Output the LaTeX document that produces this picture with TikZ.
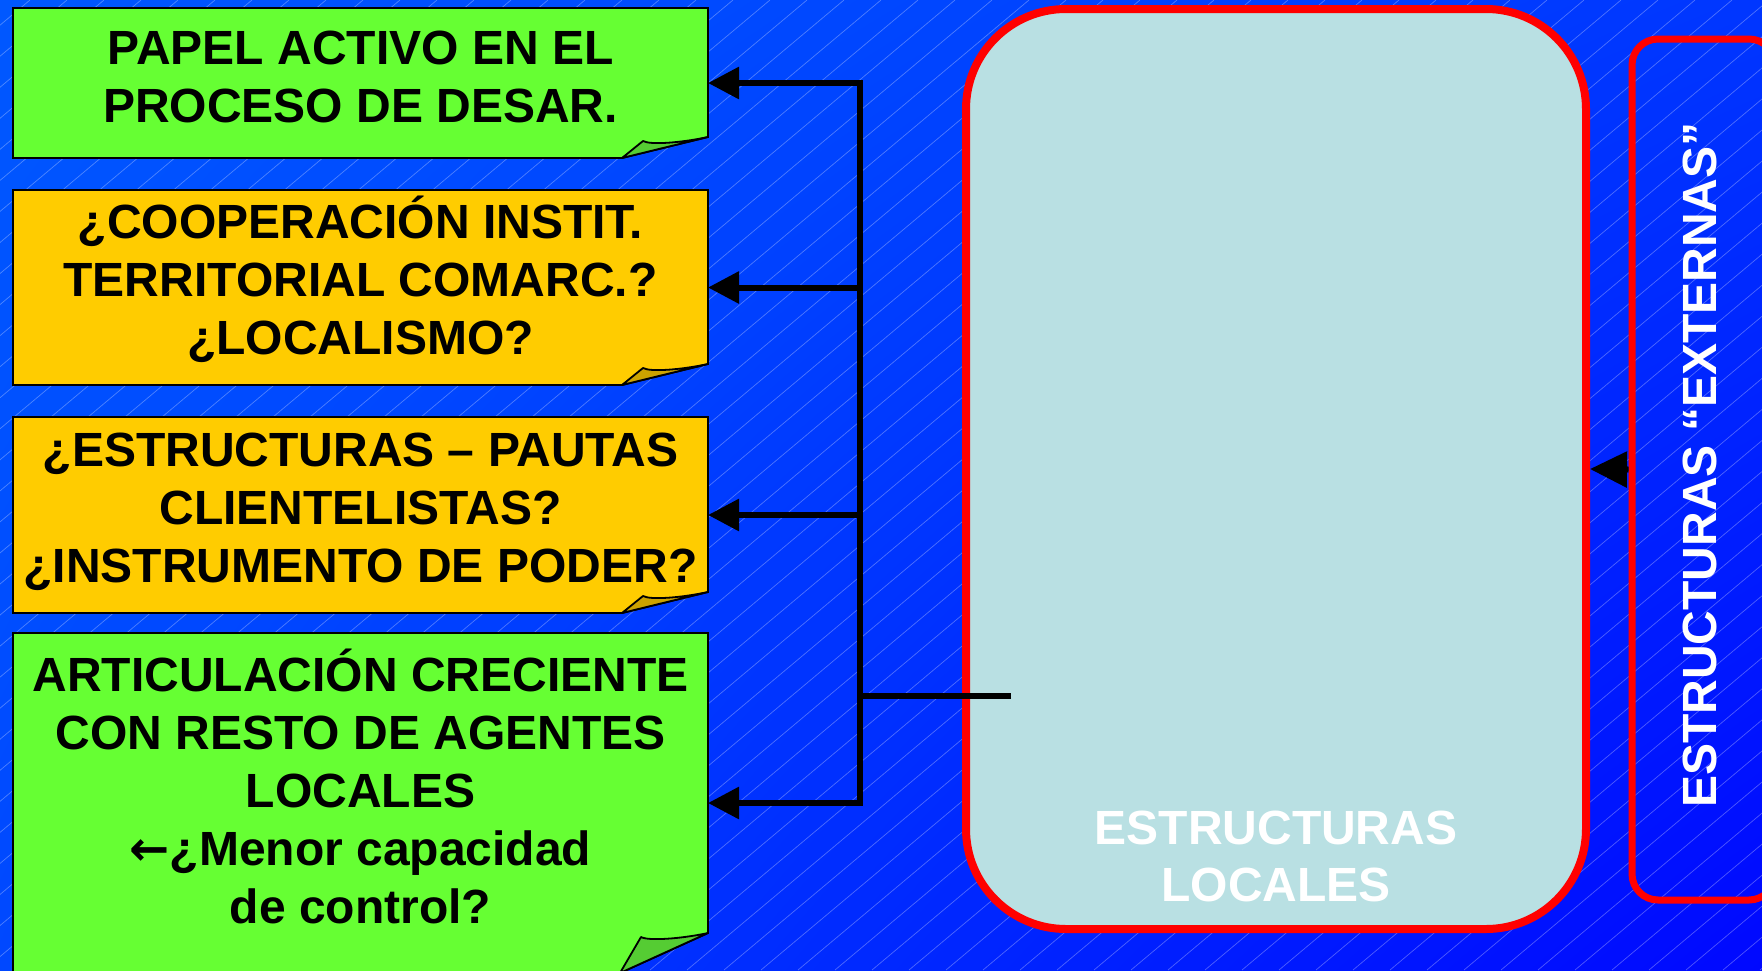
\documentclass[tikz,border=0pt]{standalone}
\usepackage{fontspec}
\setmainfont{Liberation Sans}
\newfontfamily\symfont{DejaVu Sans}
\usetikzlibrary{arrows.meta,calc,shadings}

\definecolor{bgtl}{HTML}{0058FF}
\definecolor{bgtr}{HTML}{0036FF}
\definecolor{bgbl}{HTML}{0048FF}
\definecolor{bgbr}{HTML}{0008FF}
\definecolor{notegreen}{HTML}{66FF33}
\definecolor{flapgreen}{HTML}{55CC33}
\definecolor{noteyellow}{HTML}{FFCC00}
\definecolor{flapyellow}{HTML}{CCA300}
\definecolor{locfill}{HTML}{B9E0E3}

\tikzset{
  notebox/.style={rectangle, minimum width=695pt, inner sep=0pt, outer sep=0pt, anchor=north west},
  notetext/.style={align=center, inner sep=0pt, font=\fontsize{48}{58}\selectfont\bfseries},
  whitetext/.style={align=center, inner sep=0pt, text=white, font=\fontsize{48}{57}\selectfont\bfseries},
  stripe/.style={white, opacity=0.3, line width=0.7pt},
  link/.style={line width=6pt, draw=black},
  pointer/.style={-{Triangle[length=31pt,width=31pt]}},
}

% sticky note: name, fill, flap colour, fold height, fold width
\newcommand{\stickynote}[5]{
  \draw[line width=1.8pt, fill=#2] (#1.north west) -- (#1.north east)
    -- ($(#1.south east)+(0,-#4)$) -- ($(#1.south east)+(-#5,0)$) -- (#1.south west) -- cycle;
  \draw[line width=1.8pt, fill=#3, line join=round] ($(#1.south east)+(-#5,0)$)
    -- ($(#1.south east)+(21-#5,4-#4)$)
    .. controls ($(#1.south east)+(28-#5,8-#4)$) and ($(#1.south east)+(-28,6-#4)$) .. ($(#1.south east)+(0,-#4)$) -- cycle;
}

\begin{document}
\begin{tikzpicture}[x=1pt, y=-1pt]
  \clip (0,0) rectangle (1762,970);
  % background with thin diagonal stripes
  \shade[upper left=bgtl, upper right=bgtr, lower left=bgbl, lower right=bgbr] (0,0) rectangle (1762,970);
  \foreach \i in {-1200,-1163,...,1800}
    \draw[stripe] (\i,970) -- ++(1156,-970);

  % the four notes
  \node[notebox, minimum height=150pt] (papel) at (13,8) {};
  \node[notebox, minimum height=195pt] (coop) at (13,190) {};
  \node[notebox, minimum height=196pt] (estr) at (13,417) {};
  \node[notebox, minimum height=340pt] (art) at (13,633) {};
  \stickynote{papel}{notegreen}{flapgreen}{21}{86}
  \stickynote{coop}{noteyellow}{flapyellow}{21}{86}
  \stickynote{estr}{noteyellow}{flapyellow}{21}{86}
  \stickynote{art}{notegreen}{flapgreen}{40}{88}

  \node[notetext] (papeltxt) at ([yshift=6pt]papel.center) {PAPEL ACTIVO EN EL\\PROCESO DE DESAR.};
  \node[notetext] (cooptxt) at ([yshift=8pt]coop.center) {¿COOPERACIÓN INSTIT.\\TERRITORIAL COMARC.?\\¿LOCALISMO?};
  \node[notetext] (estrtxt) at ([yshift=3pt]estr.center) {¿ESTRUCTURAS – PAUTAS\\CLIENTELISTAS?\\¿INSTRUMENTO DE PODER?};
  \node[notetext] (arttxt) at ([yshift=17pt]art.center) {ARTICULACIÓN CRECIENTE\\CON RESTO DE AGENTES\\LOCALES\\{\symfont ←}¿Menor capacidad\\de control?};

  % structures
  \node[draw=red, line width=8pt, fill=locfill, rounded corners=100pt, minimum width=620pt, minimum height=920pt] (loc) at (1276,469) {};
  \node[whitetext] (loctxt) at (1276,856) {ESTRUCTURAS\\LOCALES};
  \node[draw=red, line width=7pt, rounded corners=26pt, minimum width=143pt, minimum height=861pt] (ext) at (1703.5,469.5) {};
  \node[whitetext, rotate=90] (exttxt) at (1700,465) {ESTRUCTURAS “EXTERNAS”};

  % connectors
  \coordinate (hub) at (1011,696);
  \coordinate (spine) at (860,696);
  \draw[link] (hub) -- (spine);
  \draw[link, {Triangle[length=31pt,width=31pt]}-{Triangle[length=31pt,width=31pt]}] (papel.east) -| (spine) |- (art.east);
  \draw[link, pointer] (spine |- coop.east) -- (coop.east);
  \draw[link, pointer] (spine |- estr.east) -- (estr.east);
  \draw[link, -{Triangle[length=37pt,width=35pt]}] (ext.west) -- (loc.east);
\end{tikzpicture}
\end{document}
